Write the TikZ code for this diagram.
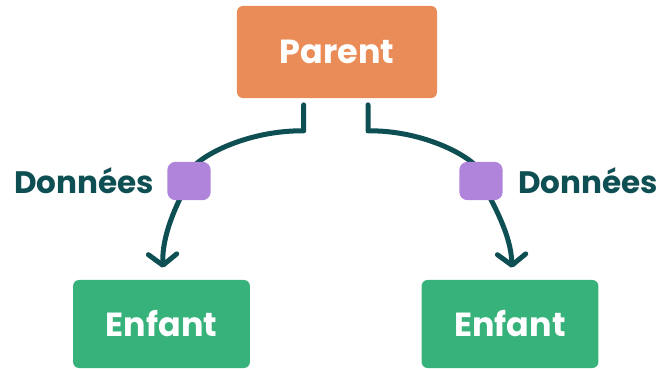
\documentclass[tikz,border=0pt]{standalone}
\usepackage{fontspec}
\setmainfont{Poppins}
\usepackage{xcolor}
\usetikzlibrary{arrows.meta, positioning, backgrounds}

\definecolor{parentorange}{HTML}{EA8C57}
\definecolor{childgreen}{HTML}{38B27B}
\definecolor{datapurple}{HTML}{B084DB}
\definecolor{linkteal}{HTML}{0E4F54}

\begin{document}
\begin{tikzpicture}[
  x=0.03cm, y=-0.03cm,
  node distance=0.4cm and 0.4cm,
  box/.style={rectangle, rounded corners=5pt, inner sep=0pt, text=white, font=\bfseries\fontsize{28.5}{32}\selectfont},
  data/.style={rectangle, rounded corners=7pt, fill=datapurple, minimum width=1.3cm, minimum height=1.15cm},
  datalabel/.style={text=linkteal, inner sep=0pt, font=\bfseries\fontsize{26.5}{30}\selectfont},
  arrow/.style={line width=0.15cm, linkteal, line cap=round, line join=round}
]
\useasboundingbox (0,0) rectangle (662,369);

% Parent (top)
\node[box, fill=parentorange, minimum width=6cm, minimum height=2.76cm] (parent) at (337,52) {Parent};

% Children (bottom row)
\node[box, fill=childgreen, minimum width=5.3cm, minimum height=2.64cm] (leftchild) at (161.5,324) {Enfant};
\node[box, fill=childgreen, minimum width=5.3cm, minimum height=2.64cm] (rightchild) at (510,324) {Enfant};

% Data passed down
\node[data] (leftdata) at (189,181) {};
\node[data] (rightdata) at (481,181) {};
\node[datalabel, left=0.38cm of leftdata] (leftlabel) {Données};
\node[datalabel, right=0.45cm of rightdata] (rightlabel) {Données};

\coordinate (leftstart) at ([xshift=-1cm, yshift=-0.2cm]parent.south);
\coordinate (rightstart) at ([xshift=0.93cm, yshift=-0.2cm]parent.south);

% Arrows
\begin{scope}[on background layer]
\draw[arrow] (leftstart) -- ++(0,26) -- ++(-8,0) .. controls (232,133) and (178,168) .. (leftdata.center);
\draw[arrow, -{Straight Barb[length=0.33cm, width=0.85cm, round]}, shorten >=0.36cm]
  (leftdata.center) .. controls (176,205) and (162,235) .. ([xshift=1.5]leftchild.north);
\draw[arrow] (rightstart) -- ++(0,26) -- ++(8,0) .. controls (438,133) and (492,168) .. (rightdata.center);
\draw[arrow, -{Straight Barb[length=0.33cm, width=0.85cm, round]}, shorten >=0.36cm]
  (rightdata.center) .. controls (494,205) and (511,235) .. ([xshift=2]rightchild.north);
\end{scope}

\end{tikzpicture}
\end{document}
